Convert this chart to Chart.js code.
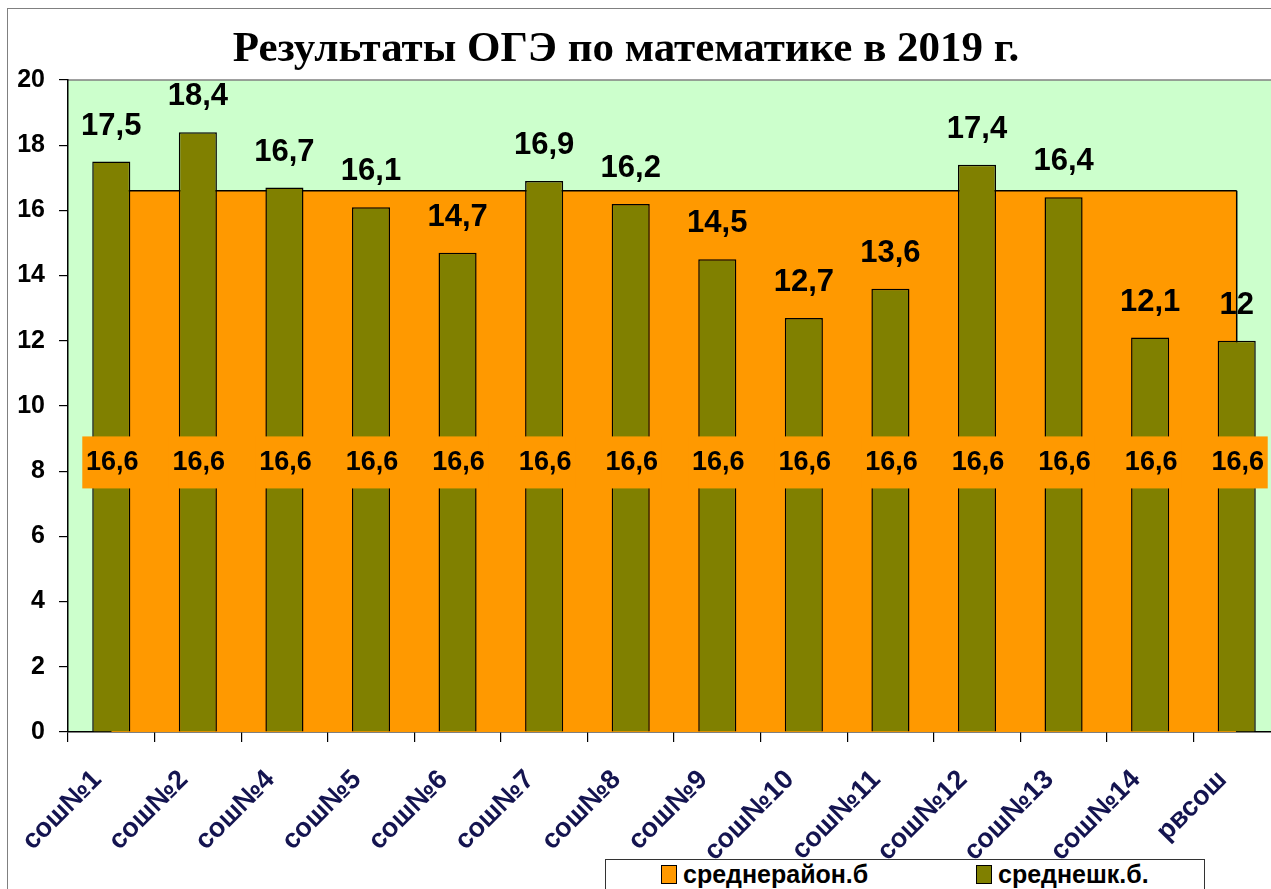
<!DOCTYPE html>
<html>
<head>
<meta charset="utf-8">
<script src="https://cdn.jsdelivr.net/npm/chart.js@4.4.1/dist/chart.umd.min.js"></script>
<style>
    html, body { margin: 0; padding: 0; background: #fff; }
    #wrap { position: relative; width: 1271px; height: 889px; overflow: hidden; }
    #frame { position: absolute; left: 7px; top: 8px; width: 1300px; height: 900px; border: 1.5px solid #808080; }
    #chart { position: absolute; left: 0; top: 0; }
    #title { position: absolute; left: 0; top: 22px; width: 1252px; text-align: center;
             font: bold 43px "Liberation Serif", "Times New Roman", serif; color: #000; }
    #legend { position: absolute; left: 605px; top: 859px; width: 598px; height: 60px;
              border: 1.5px solid #333; background: #fff;
              font: bold 25px "Liberation Sans", Arial, sans-serif; color: #000; }
    #legend span.item { position: absolute; top: 0px; white-space: nowrap; }
    #legend i { display: inline-block; width: 14px; height: 17px; border: 1.5px solid #000;
                margin-right: 6px; vertical-align: -1px; }
</style>
</head>
<body>
<div id="wrap">
    <div id="frame"></div>
    <canvas id="chart" width="1295" height="889"></canvas>
    <div id="title">Результаты ОГЭ по математике в 2019 г.</div>
    <div id="legend"></div>
</div>
<script>
const categories = ['сош№1', 'сош№2', 'сош№4', 'сош№5', 'сош№6', 'сош№7', 'сош№8',
                    'сош№9', 'сош№10', 'сош№11', 'сош№12', 'сош№13', 'сош№14', 'рвсош'];
const districtAvg = [16.6, 16.6, 16.6, 16.6, 16.6, 16.6, 16.6, 16.6, 16.6, 16.6, 16.6, 16.6, 16.6, 16.6];
const schoolAvg = [17.5, 18.4, 16.7, 16.1, 14.7, 16.9, 16.2, 14.5, 12.7, 13.6, 17.4, 16.4, 12.1, 12];
const seriesNames = ['среднерайон.б', 'среднешк.б.'];
const seriesColors = ['#FF9900', '#808000'];

const fmt = v => String(v).replace('.', ',');

// green plot background + grey top border
const plotBg = {
    id: 'plotBg',
    beforeDraw(chart) {
        const { ctx, chartArea: a } = chart;
        ctx.save();
        ctx.fillStyle = '#CCFFCC';
        ctx.fillRect(a.left, a.top, a.right - a.left, a.bottom - a.top);
        ctx.strokeStyle = '#808080';
        ctx.lineWidth = 1.5;
        ctx.beginPath();
        ctx.moveTo(a.left, a.top);
        ctx.lineTo(a.right, a.top);
        ctx.stroke();
        ctx.restore();
    }
};

// right edge of the area series, drawn under the bars
const areaEdge = {
    id: 'areaEdge',
    afterDatasetDraw(chart, args) {
        if (args.index !== 0) return;
        const pts = args.meta.data;
        const last = pts[pts.length - 1];
        const { ctx, chartArea } = chart;
        ctx.save();
        ctx.strokeStyle = '#000';
        ctx.lineWidth = 1.5;
        ctx.beginPath();
        ctx.moveTo(last.x, last.y);
        ctx.lineTo(last.x, chartArea.bottom);
        ctx.stroke();
        ctx.restore();
    }
};

const valueLabels = {
    id: 'valueLabels',
    afterDatasetsDraw(chart) {
        const { ctx } = chart;
        const yScale = chart.scales.y;
        ctx.save();
        ctx.textAlign = 'center';

        // area labels, in orange boxes at half height
        const areaMeta = chart.getDatasetMeta(0);
        ctx.font = 'bold 27px "Liberation Sans", Arial, sans-serif';
        ctx.textBaseline = 'middle';
        areaMeta.data.forEach((pt, i) => {
            const v = districtAvg[i];
            const y = yScale.getPixelForValue(v / 2);
            ctx.fillStyle = seriesColors[0];
            ctx.fillRect(pt.x - 29, y - 25, 60, 52);
            ctx.fillStyle = '#000';
            ctx.fillText(fmt(v), pt.x + 1, y + 1);
        });

        // bar labels
        const barMeta = chart.getDatasetMeta(1);
        ctx.font = 'bold 31px "Liberation Sans", Arial, sans-serif';
        ctx.textBaseline = 'alphabetic';
        barMeta.data.forEach((bar, i) => {
            ctx.fillText(fmt(schoolAvg[i]), bar.x, bar.y - 27);
        });
        ctx.restore();
    }
};

new Chart(document.getElementById('chart'), {
    type: 'bar',
    data: {
        labels: categories,
        datasets: [{
            type: 'line',
            label: seriesNames[0],
            data: districtAvg,
            backgroundColor: seriesColors[0],
            borderColor: '#000',
            borderWidth: 1.5,
            fill: 'origin',
            pointRadius: 0,
            tension: 0,
            order: 2
        }, {
            type: 'bar',
            label: seriesNames[1],
            data: schoolAvg,
            backgroundColor: seriesColors[1],
            borderColor: '#000',
            borderWidth: 1.5,
            barPercentage: 0.44,
            categoryPercentage: 1,
            order: 1
        }]
    },
    options: {
        responsive: false,
        animation: false,
        layout: { padding: { left: 0, top: 80, right: 15, bottom: 0 } },
        plugins: {
            legend: { display: false },
            tooltip: { enabled: false }
        },
        scales: {
            x: {
                offset: true,
                grid: { drawOnChartArea: false, tickLength: 10, color: '#000', lineWidth: 1.2, offset: true },
                border: { display: true, color: '#000', width: 1.5 },
                ticks: {
                    minRotation: 45,
                    maxRotation: 45,
                    padding: 22,
                    labelOffset: -14,
                    color: '#141450',
                    font: { family: '"Liberation Sans", Arial, sans-serif', size: 27, weight: 'bold' }
                },
                afterFit: s => { s.height = 157; }
            },
            y: {
                min: 0,
                max: 20,
                grid: { drawOnChartArea: false, tickLength: 9, color: '#000', lineWidth: 1.2 },
                border: { display: true, color: '#000', width: 1.5 },
                ticks: {
                    stepSize: 2,
                    padding: 14,
                    color: '#000',
                    font: { family: '"Liberation Sans", Arial, sans-serif', size: 25, weight: 'bold' }
                },
                afterFit: s => { s.width = 68; }
            }
        }
    },
    plugins: [plotBg, areaEdge, valueLabels]
});

// legend box at the bottom
const legend = document.getElementById('legend');
const legendX = [55, 370];
seriesNames.forEach((name, i) => {
    const item = document.createElement('span');
    item.className = 'item';
    item.style.left = legendX[i] + 'px';
    item.innerHTML = '<i style="background:' + seriesColors[i] + '"></i>' + name;
    legend.appendChild(item);
});
</script>
</body>
</html>
